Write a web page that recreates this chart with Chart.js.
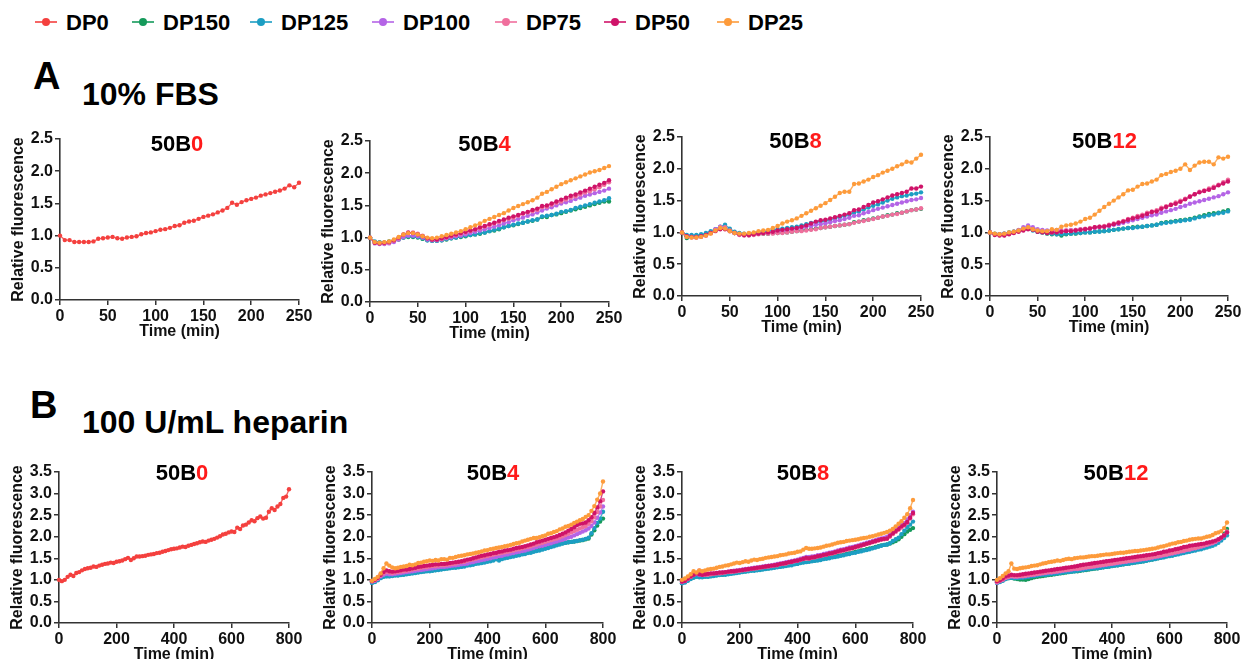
<!DOCTYPE html>
<html><head><meta charset="utf-8">
<script src="https://cdn.jsdelivr.net/npm/chart.js@4.4.1/dist/chart.umd.min.js"></script>
<style>
html,body{margin:0;padding:0;width:1244px;height:659px;overflow:hidden;background:#fff;}
body{position:relative;font-family:"Liberation Sans",Arial,sans-serif;font-weight:bold;color:#000;}
canvas{position:absolute;}
.t{position:absolute;white-space:nowrap;line-height:1;}
.red{color:#ff1a1a;}
.lg-line{position:absolute;height:2px;}
.lg-dot{position:absolute;width:8px;height:8px;border-radius:50%;}
</style></head><body>
<script>
// ---------------- DATA ----------------
const seriesNames = ["DP0","DP150","DP125","DP100","DP75","DP50","DP25"];
const xTicksFBS = [0,50,100,150,200,250];
const xTicksHep = [0,200,400,600,800];
const yTicksFBS = [0,0.5,1.0,1.5,2.0,2.5];
const yTicksHep = [0,0.5,1.0,1.5,2.0,2.5,3.0,3.5];

const timeFBS = [0,5,10,15,20,25,30,35,40,45,50,55,60,65,70,75,80,85,90,95,100,105,110,115,120,125,130,135,140,145,150,155,160,165,170,175,180,185,190,195,200,205,210,215,220,225,230,235,240,245,250];
const timeHep = [0,10,20,30,40,50,60,70,80,90,100,110,120,130,140,150,160,170,180,190,200,210,220,230,240,250,260,270,280,290,300,310,320,330,340,350,360,370,380,390,400,410,420,430,440,450,460,470,480,490,500,510,520,530,540,550,560,570,580,590,600,610,620,630,640,650,660,670,680,690,700,710,720,730,740,750,760,770,780,790,800];

// 10% FBS, 50B0
const fbsB0_DP0 = [1.00,0.93,0.93,0.90,0.90,0.90,0.90,0.91,0.95,0.96,0.97,0.98,0.96,0.95,0.97,0.98,0.99,1.02,1.04,1.05,1.07,1.09,1.10,1.12,1.15,1.16,1.20,1.22,1.23,1.26,1.29,1.31,1.33,1.36,1.39,1.43,1.51,1.48,1.52,1.55,1.57,1.59,1.62,1.64,1.66,1.68,1.70,1.73,1.78,1.75,1.82];
// 10% FBS, 50B4
const fbsB4_DP150 = [1.00,0.93,0.92,0.92,0.94,0.96,0.97,1.00,1.01,1.01,1.00,0.98,0.96,0.95,0.95,0.96,0.97,0.99,1.00,1.01,1.02,1.04,1.05,1.06,1.08,1.10,1.11,1.13,1.16,1.18,1.19,1.21,1.23,1.25,1.26,1.28,1.32,1.32,1.35,1.36,1.38,1.40,1.42,1.44,1.46,1.48,1.50,1.52,1.54,1.56,1.56];
const fbsB4_DP125 = [1.00,0.94,0.93,0.92,0.93,0.95,0.98,1.00,1.02,1.02,1.01,0.99,0.96,0.95,0.95,0.96,0.98,0.99,1.00,1.02,1.03,1.04,1.05,1.07,1.08,1.10,1.12,1.14,1.16,1.18,1.20,1.22,1.23,1.25,1.27,1.28,1.33,1.34,1.35,1.37,1.40,1.41,1.43,1.46,1.48,1.50,1.52,1.54,1.56,1.58,1.61];
const fbsB4_DP100 = [1.00,0.91,0.90,0.90,0.91,0.93,0.97,1.01,1.03,1.03,1.02,1.00,0.97,0.96,0.96,0.97,0.99,1.00,1.02,1.03,1.05,1.07,1.09,1.11,1.13,1.15,1.17,1.19,1.22,1.24,1.27,1.29,1.31,1.34,1.36,1.39,1.42,1.45,1.47,1.50,1.53,1.55,1.57,1.60,1.62,1.65,1.67,1.69,1.71,1.73,1.76];
const fbsB4_DP75 = [1.00,0.92,0.91,0.91,0.92,0.95,0.99,1.04,1.07,1.08,1.06,1.03,0.99,0.97,0.97,0.98,1.00,1.02,1.04,1.06,1.08,1.10,1.12,1.14,1.17,1.19,1.22,1.24,1.27,1.29,1.31,1.34,1.37,1.39,1.41,1.43,1.47,1.48,1.51,1.54,1.56,1.59,1.62,1.64,1.67,1.70,1.72,1.75,1.78,1.82,1.86];
const fbsB4_DP50 = [1.00,0.92,0.91,0.92,0.93,0.96,1.00,1.05,1.08,1.07,1.05,1.02,0.99,0.97,0.97,0.99,1.01,1.03,1.05,1.07,1.09,1.11,1.13,1.16,1.18,1.21,1.23,1.26,1.28,1.31,1.33,1.35,1.38,1.40,1.43,1.45,1.49,1.50,1.53,1.56,1.59,1.62,1.65,1.67,1.70,1.73,1.76,1.79,1.82,1.85,1.89];
const fbsB4_DP25 = [1.00,0.93,0.92,0.93,0.94,0.97,1.01,1.05,1.07,1.07,1.05,1.02,1.00,0.99,1.00,1.02,1.04,1.06,1.08,1.10,1.13,1.16,1.19,1.22,1.26,1.29,1.32,1.35,1.38,1.42,1.46,1.49,1.52,1.55,1.58,1.62,1.68,1.71,1.75,1.79,1.83,1.86,1.89,1.92,1.95,1.98,2.01,2.03,2.05,2.08,2.11];
// 10% FBS, 50B8
const fbsB8_DP150 = [1.00,0.91,0.93,0.94,0.95,0.97,1.00,1.04,1.07,1.07,1.03,0.99,0.97,0.96,0.96,0.97,0.98,0.98,0.98,0.99,0.99,1.00,1.00,1.01,1.02,1.03,1.04,1.05,1.06,1.07,1.08,1.09,1.10,1.11,1.12,1.13,1.16,1.17,1.19,1.20,1.22,1.23,1.25,1.27,1.28,1.30,1.31,1.33,1.35,1.36,1.37];
const fbsB8_DP125 = [1.00,0.96,0.96,0.96,0.97,0.99,1.02,1.05,1.09,1.12,1.06,1.01,0.99,0.98,0.98,0.99,1.00,1.01,1.02,1.04,1.05,1.06,1.07,1.08,1.09,1.11,1.13,1.15,1.16,1.17,1.18,1.20,1.22,1.24,1.26,1.28,1.31,1.33,1.36,1.39,1.42,1.44,1.47,1.50,1.53,1.55,1.57,1.58,1.60,1.61,1.63];
const fbsB8_DP100 = [1.00,0.94,0.93,0.92,0.93,0.95,0.99,1.05,1.09,1.07,1.02,0.99,0.97,0.96,0.96,0.97,0.98,0.99,0.99,1.00,1.01,1.02,1.03,1.04,1.06,1.07,1.09,1.10,1.12,1.13,1.14,1.16,1.18,1.19,1.21,1.23,1.26,1.27,1.30,1.32,1.35,1.37,1.39,1.41,1.43,1.45,1.47,1.49,1.51,1.52,1.54];
const fbsB8_DP75 = [1.00,0.93,0.92,0.92,0.93,0.95,0.99,1.04,1.08,1.08,1.03,0.99,0.96,0.95,0.95,0.96,0.97,0.98,0.98,0.98,0.99,0.99,1.00,1.01,1.02,1.02,1.03,1.04,1.05,1.07,1.08,1.09,1.10,1.11,1.12,1.13,1.15,1.17,1.18,1.20,1.21,1.23,1.25,1.26,1.28,1.29,1.31,1.33,1.35,1.36,1.38];
const fbsB8_DP50 = [1.00,0.94,0.93,0.93,0.94,0.96,0.99,1.02,1.05,1.05,1.02,0.99,0.97,0.96,0.96,0.97,0.98,0.99,1.00,1.01,1.03,1.04,1.05,1.06,1.07,1.09,1.11,1.14,1.17,1.19,1.20,1.22,1.24,1.26,1.28,1.30,1.35,1.36,1.40,1.43,1.47,1.49,1.52,1.55,1.58,1.60,1.62,1.64,1.69,1.69,1.72];
const fbsB8_DP25 = [1.00,0.93,0.92,0.92,0.93,0.95,0.98,1.03,1.07,1.06,1.02,0.99,0.98,0.98,0.99,1.00,1.02,1.03,1.04,1.07,1.10,1.14,1.17,1.19,1.22,1.26,1.30,1.34,1.38,1.42,1.46,1.51,1.56,1.62,1.64,1.64,1.76,1.77,1.80,1.83,1.87,1.90,1.94,1.97,2.00,2.04,2.07,2.11,2.10,2.16,2.22];
// 10% FBS, 50B12
const fbsB12_DP150 = [1.00,0.98,0.97,0.98,1.00,1.01,1.03,1.05,1.07,1.04,1.01,1.00,0.98,0.97,0.97,0.95,0.97,0.98,0.98,0.99,1.00,1.00,1.01,1.02,1.02,1.03,1.04,1.05,1.06,1.07,1.08,1.09,1.09,1.10,1.11,1.12,1.15,1.16,1.17,1.18,1.19,1.20,1.21,1.23,1.25,1.27,1.29,1.30,1.31,1.33,1.35];
const fbsB12_DP125 = [1.00,0.97,0.97,0.98,0.99,1.01,1.03,1.05,1.06,1.03,1.01,1.00,0.99,0.98,0.97,0.97,0.98,0.98,0.99,0.99,1.00,1.00,1.01,1.01,1.02,1.03,1.04,1.05,1.06,1.07,1.07,1.08,1.09,1.10,1.11,1.12,1.14,1.15,1.16,1.17,1.18,1.19,1.20,1.22,1.24,1.25,1.27,1.28,1.30,1.31,1.33];
const fbsB12_DP100 = [1.00,0.97,0.97,0.98,0.99,1.01,1.04,1.08,1.11,1.08,1.05,1.04,1.03,1.03,1.04,1.03,1.03,1.04,1.04,1.05,1.05,1.06,1.07,1.08,1.09,1.10,1.12,1.13,1.15,1.17,1.19,1.21,1.23,1.25,1.27,1.28,1.31,1.33,1.35,1.37,1.40,1.42,1.45,1.47,1.49,1.51,1.53,1.55,1.57,1.60,1.63];
const fbsB12_DP75 = [1.00,0.97,0.96,0.96,0.98,1.00,1.02,1.05,1.07,1.05,1.02,1.01,1.00,1.00,1.01,1.02,1.03,1.03,1.04,1.05,1.06,1.07,1.08,1.09,1.10,1.12,1.14,1.16,1.18,1.21,1.23,1.26,1.28,1.31,1.33,1.35,1.39,1.41,1.44,1.47,1.50,1.53,1.57,1.60,1.64,1.66,1.69,1.72,1.75,1.79,1.83];
const fbsB12_DP50 = [1.00,0.96,0.95,0.95,0.97,0.99,1.01,1.03,1.05,1.04,1.01,1.00,0.99,1.00,1.00,1.01,1.02,1.02,1.03,1.04,1.05,1.06,1.08,1.09,1.09,1.11,1.13,1.15,1.17,1.20,1.22,1.24,1.26,1.29,1.32,1.33,1.37,1.40,1.43,1.45,1.48,1.52,1.56,1.60,1.63,1.65,1.67,1.70,1.74,1.77,1.80];
const fbsB12_DP25 = [1.00,0.98,0.97,0.98,1.00,1.01,1.03,1.06,1.08,1.05,1.03,1.02,1.02,1.05,1.04,1.09,1.11,1.12,1.14,1.17,1.21,1.23,1.28,1.34,1.40,1.45,1.50,1.55,1.60,1.66,1.67,1.72,1.76,1.77,1.80,1.83,1.90,1.92,1.95,1.97,2.00,2.07,1.98,2.05,2.10,2.11,2.11,2.07,2.18,2.16,2.19];

// 100 U/mL heparin, 50B0
const hepB0_DP0 = [1.00,0.97,1.00,1.07,1.12,1.09,1.16,1.18,1.22,1.25,
 1.27,1.28,1.31,1.30,1.33,1.35,1.37,1.38,1.40,1.39,
 1.42,1.43,1.45,1.48,1.51,1.46,1.50,1.54,1.54,1.55,
 1.56,1.58,1.59,1.60,1.62,1.63,1.65,1.67,1.69,1.71,
 1.72,1.73,1.75,1.77,1.76,1.79,1.81,1.83,1.85,1.87,
 1.89,1.88,1.91,1.93,1.95,1.98,2.01,2.05,2.07,2.10,
 2.12,2.11,2.21,2.18,2.26,2.28,2.33,2.38,2.36,2.43,
 2.47,2.42,2.44,2.58,2.66,2.62,2.70,2.76,2.90,2.93,
 3.10];
// 100 U/mL heparin, 50B4
const hepB4_DP150 = [0.94,0.96,1.00,1.05,1.08,1.09,1.09,1.10,1.11,1.11,
 1.12,1.13,1.14,1.15,1.16,1.17,1.18,1.19,1.20,1.21,
 1.21,1.22,1.23,1.25,1.25,1.26,1.27,1.29,1.29,1.30,
 1.31,1.32,1.34,1.35,1.36,1.37,1.39,1.40,1.42,1.42,
 1.44,1.45,1.47,1.48,1.49,1.51,1.52,1.53,1.55,1.56,
 1.58,1.59,1.61,1.62,1.64,1.65,1.67,1.69,1.70,1.72,
 1.74,1.76,1.78,1.80,1.82,1.84,1.85,1.86,1.87,1.88,
 1.89,1.90,1.91,1.92,1.94,1.96,2.05,2.15,2.26,2.35,
 2.42];
const hepB4_DP125 = [0.93,0.95,0.99,1.04,1.07,1.08,1.08,1.09,1.10,1.10,
 1.11,1.12,1.13,1.14,1.15,1.16,1.17,1.18,1.19,1.20,
 1.20,1.21,1.22,1.23,1.24,1.25,1.26,1.27,1.28,1.28,
 1.29,1.30,1.31,1.33,1.34,1.35,1.37,1.38,1.39,1.40,
 1.42,1.43,1.45,1.48,1.45,1.48,1.50,1.51,1.53,1.54,
 1.56,1.57,1.59,1.60,1.62,1.63,1.65,1.67,1.68,1.70,
 1.72,1.74,1.76,1.78,1.80,1.82,1.84,1.86,1.87,1.88,
 1.89,1.90,1.92,1.93,1.95,1.98,2.08,2.20,2.32,2.42,
 2.58];
const hepB4_DP100 = [0.96,0.98,1.02,1.08,1.12,1.14,1.13,1.13,1.14,1.15,
 1.16,1.17,1.18,1.19,1.20,1.21,1.22,1.23,1.24,1.25,
 1.26,1.27,1.28,1.29,1.30,1.30,1.31,1.32,1.33,1.34,
 1.35,1.36,1.37,1.38,1.40,1.41,1.43,1.44,1.46,1.47,
 1.49,1.50,1.52,1.53,1.55,1.56,1.58,1.59,1.61,1.62,
 1.64,1.65,1.67,1.68,1.70,1.72,1.74,1.76,1.78,1.79,
 1.81,1.83,1.85,1.87,1.89,1.91,1.93,1.95,1.98,2.00,
 2.03,2.06,2.09,2.12,2.15,2.19,2.25,2.33,2.44,2.56,
 2.70];
const hepB4_DP75 = [0.97,0.99,1.03,1.10,1.15,1.18,1.17,1.16,1.17,1.18,
 1.19,1.20,1.21,1.22,1.24,1.25,1.26,1.28,1.29,1.29,
 1.31,1.32,1.32,1.33,1.34,1.34,1.35,1.36,1.37,1.38,
 1.40,1.41,1.42,1.44,1.46,1.47,1.49,1.51,1.52,1.54,
 1.55,1.57,1.58,1.60,1.61,1.63,1.64,1.65,1.67,1.68,
 1.70,1.71,1.73,1.75,1.76,1.78,1.80,1.82,1.84,1.86,
 1.88,1.90,1.92,1.94,1.96,1.98,2.01,2.04,2.07,2.10,
 2.13,2.16,2.19,2.22,2.25,2.30,2.36,2.45,2.57,2.70,
 2.85];
const hepB4_DP50 = [0.97,1.00,1.05,1.12,1.18,1.22,1.20,1.19,1.20,1.21,
 1.22,1.24,1.24,1.25,1.27,1.28,1.30,1.31,1.32,1.33,
 1.34,1.35,1.36,1.36,1.37,1.37,1.38,1.39,1.40,1.41,
 1.42,1.43,1.45,1.47,1.48,1.50,1.52,1.54,1.56,1.57,
 1.59,1.60,1.62,1.63,1.65,1.66,1.68,1.69,1.70,1.72,
 1.74,1.75,1.76,1.78,1.80,1.82,1.84,1.87,1.89,1.91,
 1.93,1.95,1.97,1.99,2.01,2.04,2.07,2.10,2.14,2.18,
 2.22,2.27,2.30,2.31,2.33,2.38,2.45,2.55,2.68,2.82,
 3.05];
const hepB4_DP25 = [0.98,1.02,1.07,1.15,1.27,1.38,1.33,1.29,1.27,1.28,
 1.30,1.31,1.32,1.35,1.34,1.36,1.39,1.40,1.42,1.43,
 1.45,1.44,1.46,1.45,1.48,1.48,1.47,1.51,1.51,1.53,
 1.55,1.56,1.57,1.59,1.60,1.61,1.63,1.64,1.66,1.68,
 1.69,1.71,1.72,1.74,1.75,1.76,1.78,1.79,1.81,1.83,
 1.85,1.86,1.89,1.91,1.93,1.95,1.97,1.97,1.99,2.01,
 2.03,2.07,2.08,2.11,2.13,2.17,2.19,2.23,2.25,2.28,
 2.32,2.35,2.38,2.41,2.46,2.50,2.60,2.71,2.86,3.00,
 3.28];
// 100 U/mL heparin, 50B8
const hepB8_DP150 = [0.93,0.95,0.99,1.03,1.06,1.08,1.07,1.07,1.08,1.08,
 1.09,1.10,1.11,1.12,1.12,1.13,1.14,1.15,1.16,1.17,
 1.18,1.19,1.20,1.21,1.22,1.23,1.23,1.24,1.25,1.26,
 1.27,1.28,1.29,1.30,1.31,1.32,1.33,1.35,1.36,1.37,
 1.38,1.40,1.41,1.42,1.43,1.44,1.45,1.47,1.48,1.49,
 1.51,1.52,1.53,1.55,1.56,1.57,1.59,1.60,1.62,1.63,
 1.65,1.66,1.68,1.69,1.71,1.73,1.74,1.76,1.78,1.80,
 1.81,1.82,1.84,1.87,1.90,1.94,2.00,2.06,2.12,2.16,
 2.20];
const hepB8_DP125 = [0.92,0.94,0.98,1.02,1.05,1.07,1.06,1.06,1.07,1.07,
 1.08,1.09,1.10,1.11,1.12,1.12,1.13,1.14,1.15,1.16,
 1.17,1.18,1.19,1.20,1.21,1.21,1.22,1.23,1.24,1.25,
 1.26,1.27,1.28,1.29,1.30,1.31,1.32,1.33,1.34,1.36,
 1.37,1.39,1.40,1.41,1.42,1.43,1.44,1.45,1.46,1.48,
 1.49,1.50,1.52,1.53,1.54,1.56,1.57,1.59,1.60,1.62,
 1.63,1.65,1.66,1.68,1.69,1.71,1.73,1.75,1.77,1.79,
 1.81,1.82,1.85,1.90,1.94,1.98,2.06,2.14,2.22,2.28,
 2.35];
const hepB8_DP100 = [0.95,0.97,1.02,1.07,1.11,1.14,1.12,1.11,1.12,1.13,
 1.14,1.15,1.16,1.16,1.17,1.18,1.19,1.20,1.21,1.22,
 1.23,1.24,1.25,1.26,1.27,1.28,1.29,1.30,1.31,1.32,
 1.33,1.34,1.35,1.37,1.38,1.39,1.41,1.42,1.44,1.45,
 1.47,1.49,1.51,1.53,1.53,1.54,1.55,1.57,1.58,1.60,
 1.61,1.63,1.64,1.66,1.68,1.70,1.71,1.73,1.75,1.76,
 1.78,1.80,1.82,1.84,1.86,1.88,1.90,1.92,1.94,1.96,
 1.98,2.00,2.05,2.11,2.16,2.21,2.27,2.32,2.40,2.50,
 2.58];
const hepB8_DP75 = [0.96,0.98,1.02,1.07,1.12,1.16,1.22,1.13,1.12,1.12,
 1.13,1.14,1.15,1.15,1.16,1.17,1.18,1.18,1.19,1.20,
 1.21,1.22,1.23,1.24,1.25,1.26,1.27,1.28,1.29,1.30,
 1.31,1.32,1.33,1.34,1.36,1.37,1.38,1.40,1.41,1.43,
 1.44,1.46,1.48,1.49,1.49,1.51,1.52,1.54,1.55,1.57,
 1.58,1.60,1.61,1.63,1.65,1.66,1.68,1.70,1.71,1.73,
 1.75,1.77,1.79,1.81,1.83,1.85,1.87,1.89,1.91,1.93,
 1.94,1.95,2.00,2.06,2.11,2.16,2.21,2.26,2.32,2.42,
 2.52];
const hepB8_DP50 = [0.96,0.98,1.03,1.08,1.12,1.15,1.13,1.12,1.13,1.14,
 1.15,1.15,1.16,1.17,1.17,1.18,1.19,1.20,1.20,1.21,
 1.22,1.23,1.24,1.25,1.26,1.27,1.28,1.29,1.30,1.31,
 1.32,1.33,1.34,1.35,1.37,1.38,1.39,1.41,1.42,1.44,
 1.45,1.47,1.49,1.51,1.50,1.52,1.53,1.55,1.56,1.58,
 1.59,1.61,1.62,1.64,1.66,1.68,1.69,1.71,1.73,1.74,
 1.76,1.78,1.80,1.82,1.84,1.86,1.88,1.90,1.92,1.94,
 1.95,1.96,2.02,2.08,2.13,2.18,2.24,2.28,2.34,2.44,
 2.55];
const hepB8_DP25 = [1.00,1.03,1.08,1.13,1.20,1.17,1.22,1.20,1.22,1.24,
 1.25,1.26,1.28,1.30,1.31,1.33,1.34,1.36,1.38,1.40,
 1.39,1.41,1.43,1.42,1.45,1.47,1.46,1.48,1.49,1.51,
 1.52,1.53,1.54,1.55,1.57,1.58,1.59,1.61,1.62,1.63,
 1.65,1.66,1.70,1.74,1.72,1.72,1.73,1.74,1.75,1.77,
 1.79,1.80,1.82,1.84,1.86,1.87,1.88,1.90,1.91,1.92,
 1.93,1.94,1.96,1.97,1.98,2.00,2.01,2.03,2.05,2.07,
 2.09,2.11,2.14,2.18,2.24,2.30,2.36,2.44,2.52,2.66,
 2.85];
// 100 U/mL heparin, 50B12
const hepB12_DP150 = [0.94,0.96,0.99,1.02,1.04,1.05,1.03,1.02,1.01,1.01,
 1.00,1.02,1.04,1.06,1.07,1.08,1.09,1.10,1.11,1.12,
 1.13,1.14,1.15,1.16,1.17,1.18,1.19,1.20,1.20,1.21,
 1.22,1.23,1.24,1.25,1.26,1.27,1.28,1.29,1.30,1.31,
 1.32,1.33,1.34,1.35,1.36,1.37,1.38,1.39,1.40,1.41,
 1.42,1.43,1.45,1.46,1.47,1.49,1.50,1.52,1.53,1.55,
 1.56,1.58,1.59,1.61,1.62,1.64,1.65,1.67,1.69,1.70,
 1.72,1.74,1.76,1.78,1.80,1.83,1.86,1.91,1.98,2.07,
 2.18];
const hepB12_DP125 = [0.93,0.95,0.98,1.02,1.04,1.05,1.04,1.04,1.05,1.05,
 1.06,1.07,1.08,1.09,1.10,1.11,1.12,1.12,1.13,1.14,
 1.14,1.15,1.16,1.17,1.18,1.18,1.19,1.20,1.21,1.22,
 1.23,1.24,1.25,1.26,1.27,1.27,1.28,1.29,1.30,1.31,
 1.32,1.33,1.34,1.35,1.36,1.37,1.38,1.39,1.40,1.41,
 1.42,1.43,1.44,1.46,1.47,1.48,1.50,1.51,1.52,1.54,
 1.55,1.56,1.58,1.59,1.61,1.62,1.64,1.65,1.67,1.68,
 1.70,1.71,1.73,1.75,1.77,1.79,1.82,1.86,1.91,1.97,
 2.03];
const hepB12_DP100 = [0.94,0.97,1.00,1.04,1.06,1.08,1.07,1.07,1.08,1.08,
 1.09,1.10,1.11,1.12,1.13,1.14,1.15,1.16,1.17,1.17,
 1.18,1.19,1.20,1.21,1.22,1.23,1.24,1.25,1.25,1.26,
 1.27,1.28,1.29,1.30,1.31,1.32,1.33,1.34,1.35,1.36,
 1.37,1.38,1.39,1.40,1.41,1.42,1.43,1.44,1.45,1.46,
 1.47,1.48,1.49,1.50,1.51,1.53,1.54,1.55,1.57,1.58,
 1.60,1.61,1.63,1.64,1.66,1.67,1.69,1.70,1.72,1.73,
 1.75,1.77,1.79,1.81,1.83,1.85,1.88,1.92,1.97,2.03,
 2.10];
const hepB12_DP75 = [0.95,0.98,1.01,1.05,1.07,1.09,1.08,1.08,1.09,1.09,
 1.10,1.11,1.12,1.13,1.14,1.15,1.16,1.17,1.18,1.18,
 1.19,1.20,1.21,1.22,1.23,1.24,1.25,1.26,1.26,1.27,
 1.28,1.29,1.30,1.31,1.32,1.33,1.34,1.35,1.36,1.37,
 1.38,1.39,1.40,1.41,1.42,1.43,1.44,1.45,1.46,1.47,
 1.48,1.49,1.50,1.51,1.53,1.54,1.55,1.57,1.58,1.59,
 1.61,1.62,1.64,1.65,1.67,1.68,1.70,1.71,1.73,1.74,
 1.76,1.78,1.80,1.82,1.84,1.86,1.89,1.93,1.98,2.04,
 2.12];
const hepB12_DP50 = [0.97,0.99,1.03,1.08,1.10,1.12,1.11,1.11,1.12,1.13,
 1.14,1.15,1.16,1.17,1.18,1.19,1.20,1.21,1.22,1.23,
 1.24,1.25,1.26,1.27,1.28,1.29,1.30,1.31,1.32,1.34,
 1.35,1.36,1.37,1.38,1.39,1.40,1.41,1.42,1.43,1.44,
 1.45,1.46,1.47,1.48,1.49,1.50,1.51,1.52,1.53,1.54,
 1.55,1.56,1.57,1.58,1.59,1.60,1.62,1.63,1.65,1.66,
 1.68,1.69,1.71,1.72,1.74,1.76,1.77,1.79,1.80,1.81,
 1.82,1.83,1.84,1.86,1.87,1.89,1.91,1.94,1.98,2.03,
 2.10];
const hepB12_DP25 = [1.00,1.04,1.09,1.15,1.20,1.38,1.26,1.25,1.27,1.28,
 1.29,1.30,1.32,1.33,1.34,1.36,1.38,1.39,1.41,1.42,
 1.43,1.45,1.44,1.46,1.48,1.49,1.48,1.50,1.51,1.52,
 1.52,1.53,1.54,1.55,1.55,1.56,1.57,1.58,1.59,1.59,
 1.60,1.61,1.62,1.63,1.63,1.64,1.65,1.66,1.67,1.67,
 1.68,1.69,1.70,1.71,1.72,1.73,1.75,1.77,1.78,1.80,
 1.82,1.84,1.85,1.87,1.88,1.90,1.91,1.93,1.94,1.95,
 1.96,1.96,1.98,2.00,2.01,2.04,2.08,2.10,2.13,2.20,
 2.33];

// ---------------- STYLE / LAYOUT ----------------
const FONT = '"Liberation Sans", Arial, sans-serif';
const COLORS = {DP0:'#f4403e', DP150:'#159a5b', DP125:'#1c9ec3', DP100:'#b464e6', DP75:'#f06f9d', DP50:'#cf1369', DP25:'#fd9b3b'};
const LINE_COLORS = {DP0:'rgba(244,64,62,0.8)', DP150:'rgba(21,154,91,0.8)', DP125:'rgba(28,158,195,0.8)', DP100:'rgba(180,100,230,0.8)', DP75:'rgba(240,111,157,0.8)', DP50:'rgba(207,19,105,0.8)', DP25:'rgba(253,155,59,0.8)'};

function txt(html, left, top, size, extra) {
  const d = document.createElement('div');
  d.className = 't';
  d.innerHTML = html;
  d.style.left = left + 'px';
  d.style.top = top + 'px';
  d.style.fontSize = size + 'px';
  if (extra) Object.assign(d.style, extra);
  document.body.appendChild(d);
  return d;
}

// Legend
const legendTextLeft = [66,163,281,403,526,635,748];
seriesNames.forEach((name, i) => {
  const tl = legendTextLeft[i];
  const ln = document.createElement('div');
  ln.className = 'lg-line';
  ln.style.left = (tl - 31) + 'px'; ln.style.top = '21px'; ln.style.width = '22px';
  ln.style.background = LINE_COLORS[name];
  document.body.appendChild(ln);
  const dt = document.createElement('div');
  dt.className = 'lg-dot';
  dt.style.left = (tl - 24) + 'px'; dt.style.top = '18px';
  dt.style.background = COLORS[name];
  document.body.appendChild(dt);
  txt(name, tl, 11.7, 22);
});

// Section headers
txt('A', 33, 57, 38);
txt('10% FBS', 82, 78, 32);
txt('B', 30, 386, 38);
txt('100 U/mL heparin', 82, 406, 32);

const panels = [
  {L:60, R:299, T:139, B:300, title:['50B','0'], cx:177, ct:133.3, time:timeFBS, xTicks:xTicksFBS, yTicks:yTicksFBS, xMax:250, yMax:2.5,
   series:[['DP0',fbsB0_DP0]]},
  {L:370, R:609, T:141, B:302, title:['50B','4'], cx:484.5, ct:133.3, time:timeFBS, xTicks:xTicksFBS, yTicks:yTicksFBS, xMax:250, yMax:2.5,
   series:[['DP25',fbsB4_DP25],['DP50',fbsB4_DP50],['DP75',fbsB4_DP75],['DP100',fbsB4_DP100],['DP125',fbsB4_DP125],['DP150',fbsB4_DP150]]},
  {L:682, R:921, T:137, B:296, title:['50B','8'], cx:795.5, ct:130.3, time:timeFBS, xTicks:xTicksFBS, yTicks:yTicksFBS, xMax:250, yMax:2.5,
   series:[['DP25',fbsB8_DP25],['DP50',fbsB8_DP50],['DP75',fbsB8_DP75],['DP100',fbsB8_DP100],['DP125',fbsB8_DP125],['DP150',fbsB8_DP150]]},
  {L:990, R:1228, T:137, B:296, title:['50B','12'], cx:1104.5, ct:130.3, time:timeFBS, xTicks:xTicksFBS, yTicks:yTicksFBS, xMax:250, yMax:2.5,
   series:[['DP25',fbsB12_DP25],['DP50',fbsB12_DP50],['DP75',fbsB12_DP75],['DP100',fbsB12_DP100],['DP125',fbsB12_DP125],['DP150',fbsB12_DP150]]},
  {L:59, R:289, T:472, B:623, title:['50B','0'], cx:182, ct:462.3, time:timeHep, xTicks:xTicksHep, yTicks:yTicksHep, xMax:800, yMax:3.5,
   series:[['DP0',hepB0_DP0]]},
  {L:372, R:603, T:472, B:623, title:['50B','4'], cx:493, ct:462.3, time:timeHep, xTicks:xTicksHep, yTicks:yTicksHep, xMax:800, yMax:3.5,
   series:[['DP25',hepB4_DP25],['DP50',hepB4_DP50],['DP75',hepB4_DP75],['DP100',hepB4_DP100],['DP125',hepB4_DP125],['DP150',hepB4_DP150]]},
  {L:682, R:913, T:472, B:623, title:['50B','8'], cx:803, ct:462.3, time:timeHep, xTicks:xTicksHep, yTicks:yTicksHep, xMax:800, yMax:3.5,
   series:[['DP25',hepB8_DP25],['DP50',hepB8_DP50],['DP75',hepB8_DP75],['DP100',hepB8_DP100],['DP125',hepB8_DP125],['DP150',hepB8_DP150]]},
  {L:997, R:1227, T:472, B:623, title:['50B','12'], cx:1116, ct:462.3, time:timeHep, xTicks:xTicksHep, yTicks:yTicksHep, xMax:800, yMax:3.5,
   series:[['DP25',hepB12_DP25],['DP50',hepB12_DP50],['DP75',hepB12_DP75],['DP100',hepB12_DP100],['DP125',hepB12_DP125],['DP150',hepB12_DP150]]}
];

const PAD_T = 12, PAD_R = 16, Y_W = 51, X_H = 41;
const tickFont = {family: FONT, size: 16, weight: 'bold'};

panels.forEach(p => {
  const c = document.createElement('canvas');
  const w = p.R - p.L + Y_W + PAD_R, h = p.B - p.T + PAD_T + X_H;
  c.width = w; c.height = h;
  c.style.width = w + 'px'; c.style.height = h + 'px';
  c.style.left = (p.L - Y_W) + 'px'; c.style.top = (p.T - PAD_T) + 'px';
  document.body.appendChild(c);

  const datasets = p.series.map(([name, vals]) => ({
    label: name,
    data: vals.map((v, i) => ({x: p.time[i], y: v})),
    borderColor: LINE_COLORS[name],
    backgroundColor: COLORS[name],
    pointBackgroundColor: COLORS[name],
    pointBorderWidth: 0,
    pointRadius: 2.2,
    borderWidth: 1.4,
    tension: 0,
    clip: false
  }));

  new Chart(c, {
    type: 'line',
    data: {datasets},
    options: {
      responsive: false, animation: false, events: [],
      layout: {padding: {top: PAD_T, right: PAD_R, left: 0, bottom: 0}},
      plugins: {legend: {display: false}, tooltip: {enabled: false}, title: {display: false}},
      scales: {
        x: {
          type: 'linear', min: 0, max: p.xMax,
          afterBuildTicks: s => { s.ticks = p.xTicks.map(v => ({value: v})); },
          afterFit: s => { s.height = X_H; },
          ticks: {autoSkip: false, maxRotation: 0, padding: 2, color: '#111', font: tickFont},
          grid: {drawOnChartArea: false, drawTicks: true, tickLength: 5, color: '#333', lineWidth: 1.5},
          border: {display: true, color: '#333', width: 1.6},
          title: {display: true, text: 'Time (min)', color: '#111', font: tickFont, padding: 0}
        },
        y: {
          type: 'linear', min: 0, max: p.yMax,
          afterBuildTicks: s => { s.ticks = p.yTicks.map(v => ({value: v})); },
          afterFit: s => { s.width = Y_W; },
          ticks: {autoSkip: false, padding: 2, color: '#111', font: tickFont, callback: v => Number(v).toFixed(1)},
          grid: {drawOnChartArea: false, drawTicks: true, tickLength: 5, color: '#333', lineWidth: 1.5},
          border: {display: true, color: '#333', width: 1.6},
          title: {display: true, text: 'Relative fluorescence', color: '#111', font: tickFont, padding: 0}
        }
      }
    }
  });

  txt(p.title[0] + '<span class="red">' + p.title[1] + '</span>', p.cx, p.ct, 22, {transform: 'translateX(-50%)'});
});
</script>
</body></html>
